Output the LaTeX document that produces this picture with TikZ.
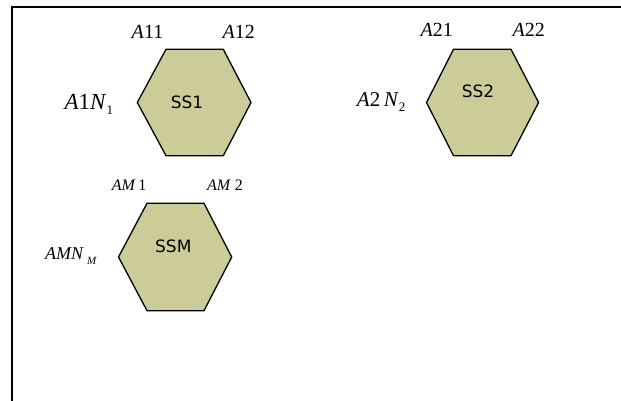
\documentclass[tikz,border=0pt]{standalone}
\usepackage{fontspec}
\setmainfont{Liberation Serif}
\newfontfamily\hexfont{DejaVu Sans}
\definecolor{hexfill}{RGB}{204,204,153}
\newcommand{\lblsub}[2]{\raisebox{-#1}{#2}}
\begin{document}
\begin{tikzpicture}[x=1pt,y=-1pt,
  hexshape/.style={draw=black,line width=1.3pt,fill=hexfill,line join=miter},
  hextext/.style={font=\hexfont\fontsize{17}{17}\selectfont,anchor=base,inner sep=0pt},
  toplbl/.style={font=\fontsize{20}{20}\selectfont,anchor=base,inner sep=0pt},
  smalllbl/.style={font=\fontsize{16}{16}\selectfont,anchor=base,inner sep=0pt},
  sidelbl/.style={anchor=base west,inner sep=0pt}]
\useasboundingbox (0,0) rectangle (621,401);
% frame
\coordinate (ftr) at (621,7);
\coordinate (ftl) at (12,7);
\coordinate (fbl) at (12,401);
\draw[line width=2pt,line cap=rect] (ftr) -- (ftl) -- (fbl);
% SS1
\draw[hexshape] (166,49.3) -- (223.3,49.3) -- (251,102.5) -- (223.3,155.7) -- (166,155.7) -- (137.3,102.5) -- cycle;
\node[hextext] (ss1) at (187,109) {SS1};
% SS2
\draw[hexshape] (453.5,49.3) -- (511,49.3) -- (538.6,102.5) -- (511,155.7) -- (453.5,155.7) -- (426.5,102.5) -- cycle;
\node[hextext] (ss2) at (478,97.3) {SS2};
% SSM
\draw[hexshape] (147,203.3) -- (204,203.3) -- (231.7,257) -- (204,310.7) -- (147,310.7) -- (118.5,257) -- cycle;
\node[hextext] (ssm) at (173.3,252.7) {SSM};
% labels
\node[toplbl] (a11) at (147.5,38.3) {\textit{A}11};
\node[toplbl] (a12) at (238.8,38.3) {\textit{A}12};
\node[toplbl] (a21) at (436.7,37) {\textit{A}21};
\node[toplbl] (a22) at (528.7,37) {\textit{A}22};
\node[sidelbl,font=\fontsize{23}{23}\selectfont] (a1n) at (64.3,109.3)
  {\textit{A}1\textit{N}\lblsub{5.5pt}{\fontsize{13}{13}\selectfont 1}};
\node[sidelbl,font=\fontsize{21}{21}\selectfont] (a2n) at (356.7,106.7)
  {\textit{A}2\,\textit{N}\lblsub{5pt}{\fontsize{13}{13}\selectfont 2}};
\node[smalllbl] (am1) at (129,190) {\textit{AM}\,1};
\node[smalllbl] (am2) at (225,190.7) {\textit{AM} 2};
\node[sidelbl,font=\fontsize{18}{18}\selectfont] (amn) at (45,259.3)
  {\textit{AMN}\,\lblsub{5.5pt}{\fontsize{11}{11}\selectfont\textit{M}}};
\end{tikzpicture}
\end{document}
